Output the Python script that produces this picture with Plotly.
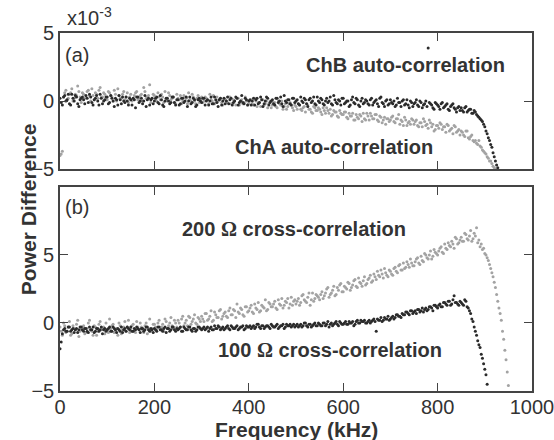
import plotly.graph_objects as go

# ---------------- data (power difference, x10^-3) ----------------
# Panel (a): auto-correlation, two interleaved sample sets per channel
freq_chb = [f * 5 for f in range(186)]            # 0 ... 925 kHz
chb_auto = [
    0.2, -0.3, 0.4, 0.1, -0.2, 0.5, 0.0, 0.3, -0.4, 0.2,
    0.1, 0.4, -0.1, 0.3, -0.3, 0.2, 0.0, 0.5, -0.2, 0.1,
    0.3, -0.1, 0.2, -0.4, 0.1, 0.4, -0.2, 0.0, 0.3, -0.3,
    0.1, 0.2, -0.5, 0.3, 0.0, -0.2, 0.4, 0.1, -0.3, 0.2,
    0.0, 0.3, -0.2, 0.1, -0.4, 0.2, 0.0, -0.1, 0.3, -0.3,
    0.1, -0.2, 0.2, 0.0, -0.4, 0.3, -0.1, 0.1, -0.3, 0.2,
    -0.1, 0.2, 0.0, -0.3, 0.3, -0.2, 0.1, -0.4, 0.2, 0.0,
    -0.2, 0.3, 0.1, -0.3, 0.0, 0.2, -0.1, 0.4, -0.2, 0.1,
    0.0, -0.3, 0.2, 0.1, -0.2, 0.3, -0.4, 0.0, 0.2, -0.1,
    0.1, -0.3, 0.2, 0.0, -0.2, 0.4, -0.1, 0.1, -0.3, 0.2,
    0.0, -0.2, 0.3, -0.1, 0.1, -0.4, 0.2, 0.0, -0.2, 0.3,
    -0.1, 0.1, -0.3, 0.2, 0.0, -0.2, 0.4, -0.1, 0.1, -0.3,
    0.2, -0.1, 0.0, -0.3, 0.3, -0.2, 0.1, -0.4, 0.2, -0.1,
    0.0, -0.3, 0.2, -0.1, 0.1, -0.4, 0.3, -0.2, 0.0, -0.3,
    0.1, -0.2, -0.4, 0.2, -0.1, 0.0, -0.3, 0.1, -0.5, -0.1,
    -0.2, 0.1, -0.4, -0.1, -0.3, 0.0, 3.9, -0.2, -0.5, -0.1,
    -0.3, -0.6, -0.1, -0.4, -0.2, -0.7, -0.3, -0.5, -0.8, -0.4,
    -0.5, -0.8, -0.4, -0.7, -0.6, -0.9, -0.8, -1.1, -1.3, -1.5,
    -1.9, -2.4, -2.9, -3.4, -4.1, -4.7,
]
freq_chb_b = [f * 5 + 2.5 for f in range(186)]    # 2.5 ... 927.5 kHz
chb_auto_b = [
    -0.1, 0.3, 0.0, 0.5, -0.3, 0.2, 0.4, -0.2, 0.1, 0.3,
    -0.2, 0.2, 0.5, -0.1, 0.1, 0.4, -0.3, 0.2, 0.0, 0.3,
    -0.2, 0.4, 0.0, 0.2, -0.3, 0.1, 0.3, -0.1, 0.0, 0.2,
    -0.3, 0.1, 0.3, -0.1, 0.2, 0.0, -0.4, 0.2, 0.1, -0.2,
    0.2, -0.1, 0.4, -0.3, 0.0, 0.2, -0.2, 0.3, -0.1, 0.1,
    -0.3, 0.2, -0.1, 0.3, 0.0, -0.2, 0.2, -0.4, 0.1, 0.0,
    0.2, -0.3, 0.1, 0.0, -0.2, 0.3, -0.1, 0.1, -0.3, 0.2,
    0.0, -0.2, 0.2, -0.1, 0.3, -0.3, 0.0, -0.1, 0.2, -0.3,
    0.1, 0.0, -0.3, 0.2, -0.1, 0.1, -0.2, 0.3, -0.3, 0.0,
    -0.2, 0.2, -0.1, 0.3, -0.4, 0.0, 0.1, -0.2, 0.2, -0.1,
    0.1, -0.3, 0.0, 0.2, -0.2, 0.1, -0.1, 0.3, -0.3, 0.0,
    0.2, -0.2, 0.0, -0.1, 0.3, -0.3, 0.1, -0.2, 0.0, 0.2,
    -0.2, 0.0, -0.4, 0.1, -0.1, 0.2, -0.3, 0.0, -0.2, 0.1,
    -0.2, 0.1, -0.3, 0.0, -0.2, 0.2, -0.1, -0.4, 0.1, -0.2,
    -0.1, 0.0, -0.3, -0.1, -0.4, 0.1, -0.2, -0.3, 0.0, -0.4,
    -0.1, -0.3, 0.0, -0.5, -0.2, -0.4, -0.1, -0.3, -0.6, -0.2,
    -0.4, -0.2, -0.5, -0.3, -0.6, -0.4, -0.2, -0.6, -0.5, -0.7,
    -0.7, -0.5, -0.8, -0.6, -0.9, -0.7, -1.0, -1.2, -1.4, -1.7,
    -2.2, -2.7, -3.2, -3.8, -4.4, -4.9,
]

freq_cha = [f * 5 for f in range(185)]            # 0 ... 920 kHz
cha_auto = [
    -4.0, -3.7, 0.6, 0.1, 0.5, 0.9, 0.2, 0.4, 0.7, -0.1,
    0.5, 0.3, 0.8, 0.0, 0.4, 0.6, 0.2, 1.0, 0.3, 0.5,
    0.1, 0.6, 0.3, 0.8, 0.0, 0.4, 0.2, 0.7, 0.3, -0.1,
    0.5, 0.2, 0.6, 0.1, 0.4, 0.0, 0.7, 0.3, 1.2, 0.2,
    0.4, 0.0, 0.3, 0.5, -0.1, 0.2, 0.6, 0.1, 0.3, -0.2,
    0.2, 0.4, 0.0, 0.3, -0.2, 0.1, 0.5, 0.0, 0.2, -0.1,
    0.3, 0.0, 0.2, -0.2, 0.1, 0.4, -0.1, 0.0, 0.2, -0.3,
    0.1, -0.1, 0.3, -0.2, 0.0, 0.2, -0.3, 0.1, -0.1, 0.0,
    -0.2, 0.1, -0.3, 0.0, -0.1, -0.4, 0.1, -0.2, -0.5, 0.0,
    -0.3, -0.1, -0.5, -0.2, 0.0, -0.4, -0.6, -0.2, -0.3, -0.7,
    -0.4, -0.2, -0.6, -0.5, -0.8, -0.3, -0.6, -0.9, -0.5, -0.7,
    -0.6, -1.0, -0.7, -0.5, -0.9, -1.1, -0.7, -0.8, -1.2, -0.9,
    -1.0, -0.8, -1.3, -1.1, -0.9, -1.4, -1.2, -1.0, -1.5, -1.3,
    -0.9, -1.4, -1.1, -1.3, -1.0, -1.5, -1.2, -1.4, -1.7, -1.3,
    -1.4, -1.1, -1.6, -1.3, -1.7, -1.5, -1.2, -1.8, -1.5, -1.3,
    -1.7, -1.4, -1.9, -1.6, -1.3, -1.8, -2.0, -1.6, -1.7, -2.1,
    -1.8, -1.6, -2.1, -1.9, -1.7, -2.2, -2.0, -1.8, -2.3, -2.1,
    -2.2, -2.5, -2.2, -2.7, -2.6, -2.9, -2.9, -3.2, -3.3, -3.6,
    -3.8, -4.1, -4.4, -4.6, -4.9,
]
freq_cha_b = [f * 5 + 2.5 for f in range(185)]    # 2.5 ... 922.5 kHz
cha_auto_b = [
    -3.9, 0.3, 0.8, 0.2, 0.6, 0.0, 0.5, 1.1, 0.3, 0.6,
    0.2, 0.7, 0.4, 0.9, 0.1, 0.5, 0.8, 0.3, 0.6, 0.1,
    0.7, 0.4, 0.0, 0.5, 0.9, 0.2, 0.5, 0.1, 0.6, 0.3,
    0.0, 0.4, 0.7, 0.2, 0.5, 1.0, 0.2, 0.4, -0.1, 0.5,
    0.2, 0.6, 0.1, 0.3, 0.7, 0.0, 0.4, 0.2, -0.1, 0.5,
    0.1, -0.2, 0.4, 0.2, 0.6, 0.0, 0.3, -0.2, 0.4, 0.1,
    -0.1, 0.3, 0.1, 0.5, 0.0, -0.2, 0.3, 0.1, -0.1, 0.2,
    0.0, 0.3, -0.2, 0.1, -0.3, 0.2, 0.0, -0.2, 0.3, -0.3,
    0.0, -0.2, 0.2, -0.4, -0.1, 0.1, -0.3, 0.0, -0.2, -0.5,
    -0.1, -0.4, 0.0, -0.3, -0.6, -0.2, -0.4, -0.1, -0.5, -0.3,
    -0.6, -0.3, -0.7, -0.4, -0.2, -0.6, -0.8, -0.4, -0.7, -0.5,
    -0.8, -0.5, -0.9, -0.7, -0.6, -1.0, -0.8, -1.1, -0.7, -1.0,
    -0.8, -1.2, -0.9, -1.1, -1.4, -1.0, -1.3, -1.1, -0.9, -1.4,
    -1.1, -0.9, -1.3, -1.0, -1.4, -1.1, -1.6, -1.2, -1.3, -1.5,
    -1.2, -1.5, -1.3, -1.0, -1.4, -1.8, -1.4, -1.6, -1.7, -1.4,
    -1.5, -1.8, -1.6, -1.9, -1.5, -1.7, -1.4, -1.9, -2.2, -1.8,
    -2.0, -1.7, -1.9, -2.3, -1.8, -2.1, -2.4, -1.9, -2.2, -2.5,
    -2.3, -2.6, -2.2, -2.8, -2.5, -3.0, -3.1, -2.9, -3.4, -3.7,
    -3.9, -4.2, -4.4, -4.8, -5.0,
]

# Panel (b): cross-correlation
freq_100 = [f * 5 for f in range(182)]            # 0 ... 905 kHz
cross_100 = [
    -1.9, -0.8, -0.4, -0.6, -0.3, -0.5, -0.7, -0.4, -0.5, -0.3,
    -0.6, -0.4, -0.7, -0.5, -0.3, -0.6, -0.4, -0.5, -0.8, -0.4,
    -0.5, -0.3, -0.6, -0.4, -0.7, -0.5, -0.3, -0.5, -0.6, -0.4,
    -0.3, -0.6, -0.5, -0.4, -0.7, -0.4, -0.5, -0.3, -0.6, -0.5,
    -0.4, -0.6, -0.3, -0.5, -0.4, -0.7, -0.4, -0.5, -0.3, -0.6,
    -0.5, -0.3, -0.6, -0.4, -0.5, -0.3, -0.6, -0.4, -0.5, -0.3,
    -0.5, -0.3, -0.4, -0.6, -0.3, -0.5, -0.4, -0.2, -0.5, -0.3,
    -0.4, -0.2, -0.5, -0.3, -0.4, -0.2, -0.4, -0.3, -0.5, -0.2,
    -0.3, -0.4, -0.2, -0.3, -0.1, -0.4, -0.2, -0.3, -0.2, -0.4,
    -0.2, -0.3, -0.1, -0.3, -0.2, -0.4, -0.1, -0.2, -0.3, -0.1,
    -0.2, -0.3, -0.1, -0.2, 0.0, -0.3, -0.1, -0.2, 0.0, -0.2,
    -0.1, -0.2, 0.0, -0.1, -0.3, 0.0, -0.1, 0.1, -0.2, 0.0,
    -0.1, 0.1, -0.1, 0.0, 0.1, -0.1, 0.2, 0.0, 0.1, 0.2,
    0.0, 0.2, 0.1, 0.3, -0.6, 0.2, 0.4, 0.2, 0.3, 0.5,
    0.3, 0.5, 0.4, 0.6, 0.5, 0.7, 0.6, 0.8, 0.6, 0.9,
    0.8, 0.7, 1.0, 0.9, 0.8, 1.1, 1.0, 1.2, 0.9, 1.3,
    1.1, 1.4, 1.2, 1.5, 1.3, 1.6, 1.4, 2.0, 1.5, 1.3,
    1.5, 1.3, 1.6, 1.1, 0.7, 0.1, -0.6, -1.3, -1.8, -2.6,
    -3.4, -4.5,
]
freq_100_b = [f * 5 + 2.5 for f in range(181)]    # 2.5 ... 902.5 kHz
cross_100_b = [
    -1.4, -0.5, -0.6, -0.3, -0.6, -0.4, -0.5, -0.7, -0.3, -0.5,
    -0.4, -0.6, -0.3, -0.5, -0.7, -0.4, -0.6, -0.3, -0.5, -0.6,
    -0.4, -0.6, -0.3, -0.5, -0.4, -0.6, -0.7, -0.4, -0.3, -0.5,
    -0.6, -0.4, -0.3, -0.5, -0.4, -0.6, -0.3, -0.5, -0.4, -0.7,
    -0.5, -0.3, -0.5, -0.6, -0.3, -0.4, -0.6, -0.3, -0.5, -0.4,
    -0.4, -0.6, -0.3, -0.5, -0.3, -0.5, -0.4, -0.6, -0.3, -0.4,
    -0.4, -0.5, -0.3, -0.4, -0.5, -0.2, -0.4, -0.3, -0.4, -0.5,
    -0.3, -0.4, -0.2, -0.4, -0.3, -0.5, -0.3, -0.2, -0.4, -0.3,
    -0.2, -0.3, -0.4, -0.1, -0.3, -0.2, -0.4, -0.2, -0.3, -0.1,
    -0.3, -0.2, -0.4, -0.2, -0.1, -0.3, -0.2, -0.1, -0.2, -0.3,
    -0.1, -0.2, -0.3, 0.0, -0.2, -0.1, -0.3, -0.1, -0.2, 0.0,
    -0.2, 0.0, -0.2, 0.1, -0.1, -0.2, 0.0, -0.1, 0.1, -0.1,
    0.0, -0.1, 0.1, 0.0, -0.2, 0.1, 0.0, 0.2, 0.1, 0.0,
    0.1, 0.0, 0.2, 0.1, 0.3, 0.2, 0.1, 0.4, 0.3, 0.2,
    0.4, 0.3, 0.6, 0.5, 0.4, 0.6, 0.8, 0.7, 0.9, 0.7,
    0.9, 1.0, 0.8, 1.1, 1.0, 0.9, 1.2, 1.1, 1.3, 1.2,
    1.3, 1.2, 1.5, 1.4, 1.6, 1.3, 1.7, 1.5, 1.4, 1.6,
    1.4, 1.7, 1.2, 0.9, 0.3, -0.3, -0.9, -1.6, -2.3, -3.0,
    -3.8,
]

freq_200 = [f * 5 for f in range(191)]            # 0 ... 950 kHz
cross_200 = [
    -0.3, -0.9, -0.2, -0.6, 0.1, -0.8, -0.4, -0.1, -1.0, -0.5,
    -0.2, -0.7, 0.0, -0.5, -0.9, -0.3, -0.6, 0.1, -0.4, -0.8,
    -0.5, 0.3, -0.2, -0.7, -0.4, 0.0, -0.8, -0.3, -0.6, 0.2,
    -0.4, -0.1, -0.7, -0.3, 0.0, -0.5, -0.2, -0.8, 0.3, -0.4,
    -0.1, -0.5, 0.2, -0.3, -0.6, 0.1, -0.2, 0.4, -0.4, 0.0,
    0.2, -0.3, 0.5, 0.0, -0.2, 0.4, 0.1, 0.6, -0.1, 0.3,
    0.5, 0.1, 0.7, 0.3, 0.9, 0.2, 0.6, 0.4, 1.0, 0.5,
    0.8, 0.4, 1.1, 0.6, 0.9, 1.4, 0.7, 1.0, 0.5, 1.2,
    0.9, 1.3, 0.7, 1.1, 1.5, 0.9, 1.2, 1.7, 1.0, 1.4,
    1.2, 1.6, 1.0, 1.4, 1.8, 1.3, 1.5, 1.1, 1.9, 1.6,
    1.4, 1.8, 1.5, 2.1, 1.6, 1.9, 1.3, 2.2, 1.8, 2.0,
    1.7, 2.3, 2.0, 2.5, 1.9, 2.2, 2.7, 2.1, 2.4, 2.9,
    2.3, 2.6, 3.0, 2.4, 2.8, 3.2, 2.6, 3.0, 2.7, 3.4,
    2.9, 3.3, 3.0, 3.6, 3.2, 3.5, 3.9, 3.3, 3.7, 3.4,
    3.8, 3.5, 4.1, 3.7, 4.3, 3.9, 4.0, 4.5, 4.1, 4.4,
    4.2, 4.7, 4.4, 4.9, 4.5, 5.0, 4.7, 5.3, 4.9, 5.2,
    5.0, 5.5, 5.2, 5.8, 5.4, 5.7, 6.0, 5.5, 6.2, 5.9,
    6.3, 6.0, 6.5, 6.1, 6.8, 6.2, 6.4, 5.9, 5.6, 5.4,
    5.1, 4.8, 4.3, 3.7, 3.0, 2.1, 1.1, 0.2, -1.2, -2.7,
    -4.6,
]
freq_200_b = [f * 5 + 2.5 for f in range(190)]    # 2.5 ... 947.5 kHz
cross_200_b = [
    -0.6, 0.0, -0.7, -0.3, -0.9, -0.2, -0.5, 0.2, -0.6, -0.3,
    -0.8, -0.4, 0.2, -0.6, -0.2, -0.9, -0.1, -0.5, -0.3, 0.0,
    -0.7, -0.4, -0.1, -0.6, -0.9, -0.2, -0.5, 0.1, -0.3, -0.7,
    -0.2, -0.6, 0.1, -0.5, -0.3, -0.7, 0.0, -0.4, -0.6, -0.1,
    -0.3, 0.0, -0.5, -0.1, 0.3, -0.4, 0.0, -0.2, 0.2, -0.3,
    0.0, 0.3, -0.2, 0.2, 0.5, -0.1, 0.3, 0.0, 0.4, 0.1,
    0.3, 0.7, 0.2, 0.5, 0.1, 0.8, 0.4, 0.9, 0.3, 0.7,
    0.5, 0.9, 0.6, 1.0, 0.4, 0.8, 1.1, 0.6, 1.2, 0.8,
    1.1, 0.8, 1.4, 1.0, 0.8, 1.3, 1.1, 0.9, 1.5, 1.2,
    1.4, 1.1, 1.7, 1.3, 1.1, 1.6, 1.8, 1.4, 1.3, 1.7,
    1.6, 1.3, 2.0, 1.7, 1.5, 2.2, 1.7, 1.6, 2.1, 1.9,
    2.1, 1.8, 2.2, 2.6, 2.1, 2.4, 2.0, 2.6, 2.8, 2.3,
    2.7, 2.5, 2.9, 2.6, 3.1, 2.7, 3.3, 2.9, 3.1, 2.8,
    3.2, 3.5, 3.1, 3.4, 3.8, 3.4, 3.6, 4.0, 3.5, 3.9,
    3.6, 4.0, 3.8, 4.2, 3.9, 4.4, 4.1, 4.3, 4.7, 4.2,
    4.5, 4.8, 4.3, 4.6, 5.1, 4.8, 5.0, 4.7, 5.4, 5.1,
    5.3, 5.6, 5.1, 5.5, 5.9, 5.6, 5.8, 6.3, 5.8, 6.1,
    6.0, 6.6, 6.2, 6.4, 6.0, 6.6, 7.0, 6.1, 5.8, 5.5,
    5.0, 4.6, 4.0, 3.4, 2.6, 1.6, 0.7, -0.6, -2.0, -3.6,
]

x_ticks = [0, 200, 400, 600, 800, 1000]
y_ticks = [-5, 0, 5]

# ---------------- figure ----------------
DARK = "#2b2b2b"
GRAY = "#a3a3a3"
FONT = "Liberation Sans, Arial, sans-serif"

fig = go.Figure()
mk = dict(size=3.0, line=dict(width=0))


def add(x, y, color, xa, ya):
    fig.add_trace(go.Scatter(x=x, y=y, mode="markers", xaxis=xa, yaxis=ya,
                             marker=dict(color=color, **mk), showlegend=False))


add(freq_cha, cha_auto, GRAY, "x2", "y2")
add(freq_cha_b, cha_auto_b, GRAY, "x2", "y2")
add(freq_chb, chb_auto, DARK, "x2", "y2")
add(freq_chb_b, chb_auto_b, DARK, "x2", "y2")
add(freq_200, cross_200, GRAY, "x", "y")
add(freq_200_b, cross_200_b, GRAY, "x", "y")
add(freq_100, cross_100, DARK, "x", "y")
add(freq_100_b, cross_100_b, DARK, "x", "y")

axis_common = dict(showline=True, linewidth=1.6, linecolor="#444", mirror="ticks",
                   ticks="inside", ticklen=8, tickwidth=1.4, tickcolor="#444",
                   showgrid=False, zeroline=False, automargin=False,
                   ticklabeloverflow="allow",
                   tickfont=dict(family=FONT, size=20, color="#333"))

fig.update_layout(
    width=554, height=440,
    margin=dict(l=60, r=22, t=33, b=49, autoexpand=False),
    paper_bgcolor="white", plot_bgcolor="white",
    font=dict(family=FONT, color="#333"),
    xaxis=dict(domain=[0, 1], anchor="y", range=[0, 1000], tickvals=x_ticks,
               ticklabelstandoff=-3, **axis_common),
    yaxis=dict(domain=[0, 0.570], anchor="x", range=[-5, 10], tickvals=y_ticks, **axis_common),
    xaxis2=dict(domain=[0, 1], anchor="y2", range=[0, 1000], tickvals=x_ticks,
                showticklabels=False, **axis_common),
    yaxis2=dict(domain=[0.620, 1], anchor="x2", range=[-5, 5], tickvals=y_ticks, **axis_common),
)

ann_bold = dict(family=FONT, size=20, color="#333")
ann_reg = dict(family=FONT, size=20, color="#333")
omega = "<span style='font-family:Liberation Serif'>Ω</span>"
annotations = [
    dict(text="(a)", x=0.006, y=0.9385, xanchor="left", yanchor="middle", font=ann_reg),
    dict(text="<b>ChB auto-correlation</b>", x=0.733, y=0.9106, xanchor="center", yanchor="middle", font=ann_bold),
    dict(text="<b>ChA auto-correlation</b>", x=0.5805, y=0.6816, xanchor="center", yanchor="middle", font=ann_bold),
    dict(text="(b)", x=0.006, y=0.514, xanchor="left", yanchor="middle", font=ann_reg),
    dict(text="<b>200 " + omega + " cross-correlation</b>", x=0.4958, y=0.4525,
         xanchor="center", yanchor="middle", font=ann_bold),
    dict(text="<b>100 " + omega + " cross-correlation</b>", x=0.572, y=0.1145,
         xanchor="center", yanchor="middle", font=ann_bold),
    dict(text="x10<sup>-3</sup>", x=0.0106, y=1.045, xanchor="left", yanchor="middle", font=ann_reg),
    dict(text="<b>Frequency (kHz)</b>", x=0.5, y=-0.108, xanchor="center", yanchor="middle",
         font=dict(family=FONT, size=21, color="#333")),
    dict(text="<b>Power Difference</b>", x=-0.0678, y=0.508, xanchor="center", yanchor="middle",
         textangle=-90, font=dict(family=FONT, size=21, color="#333")),
]
for a in annotations:
    a.update(xref="paper", yref="paper", showarrow=False)
fig.update_layout(annotations=annotations)

fig.write_html("out.html")
